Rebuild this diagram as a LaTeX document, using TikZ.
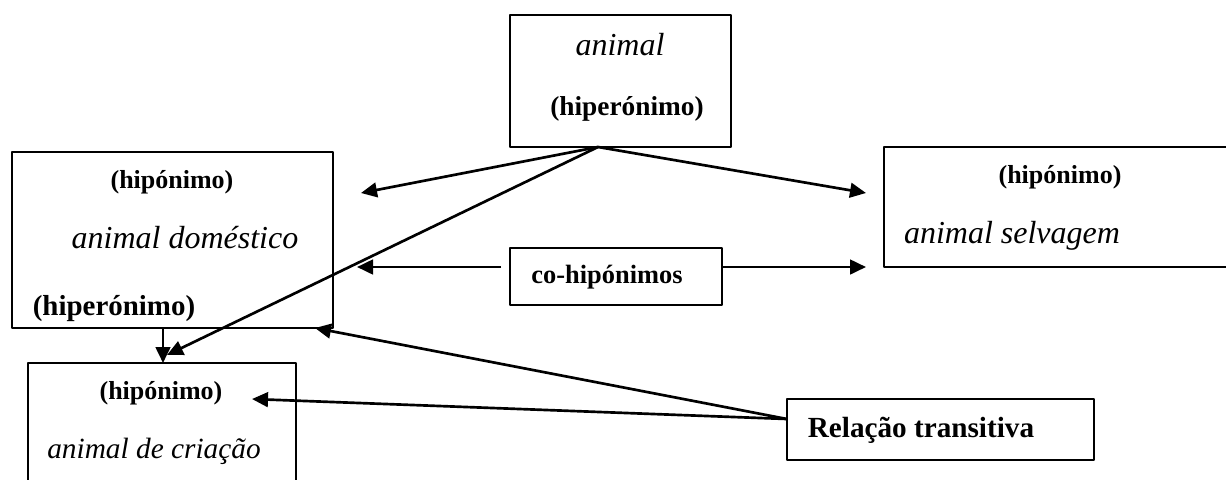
\documentclass[tikz,border=0pt]{standalone}
\usepackage{fontspec}
\setmainfont{Liberation Serif}
\usetikzlibrary{arrows.meta,fit}
\newcommand{\fs}[1]{\fontsize{#1}{#1}\selectfont}
\tikzset{caixa/.style={draw,line width=1.4pt,inner sep=0pt},
  txt/.style={anchor=base,inner sep=0pt},
  seta/.style={line width=2pt,-{Triangle[length=12pt,width=11pt]}}}
\begin{document}
\begin{tikzpicture}[x=0.75pt,y=-0.75pt,line join=round]
\useasboundingbox (0,0) rectangle (1226,479);
\clip (0,0) rectangle (1226,479);
% caixas
\node[caixa,fit={(510,15)(731,147)}] (animal) {};
\node[caixa,fit={(12,152)(333,328)}] (domestico) {};
\node[caixa,fit={(884,147)(1250,267)}] (selvagem) {};
\node[caixa,fit={(510,248)(722,305)}] (cohip) {};
\node[caixa,fit={(28,363)(296,500)}] (criacao) {};
\node[caixa,fit={(787,399)(1094,460)}] (relacao) {};
% textos
\node[txt] (animalT) at (620,55) {\fs{24}\itshape animal};
\node[txt] (animalH) at (627,115) {\fs{20.5}\bfseries (hiperónimo)};
\node[txt] (domP) at (172,188) {\fs{19.5}\bfseries (hipónimo)};
\node[txt] (domT) at (185,248) {\fs{24}\itshape animal doméstico};
\node[txt] (domH) at (114,315) {\fs{21.7}\bfseries (hiperónimo)};
\node[txt] (selP) at (1060,183) {\fs{19.5}\bfseries (hipónimo)};
\node[txt] (selT) at (1012,243) {\fs{24}\itshape animal selvagem};
\node[txt] (cohipT) at (607,283) {\fs{19.8}\bfseries co-hipónimos};
\node[txt] (criP) at (161,399) {\fs{19.5}\bfseries (hipónimo)};
\node[txt] (criT) at (154,458) {\fs{22}\itshape animal de criação};
\node[txt] (relT) at (921,437) {\fs{21.9}\bfseries Relação transitiva};
% pontas
\coordinate (apex) at (598,147);
\coordinate (pDom) at (361,193);
\coordinate (pSel) at (866,193);
\coordinate (pCri) at (167,355);
\coordinate (cE) at (501,267);
\coordinate (cD) at (723,267);
\coordinate (pDom2) at (357,267);
\coordinate (pSel2) at (866,267);
\coordinate (vA) at (163,328);
\coordinate (vB) at (163,363);
\coordinate (rel) at (787,419);
\coordinate (pCanto) at (315,328);
\coordinate (pHip) at (252,399);
% setas
\draw[seta] (apex) -- (pDom);
\draw[seta] (apex) -- (pSel);
\draw[seta] (apex) -- (pCri);
\draw[seta] (cE) -- (pDom2);
\draw[seta] (cD) -- (pSel2);
\draw[seta] (vA) -- (vB);
\draw[seta] (rel) -- (pCanto);
\draw[seta] (rel) -- (pHip);
\end{tikzpicture}
\end{document}
